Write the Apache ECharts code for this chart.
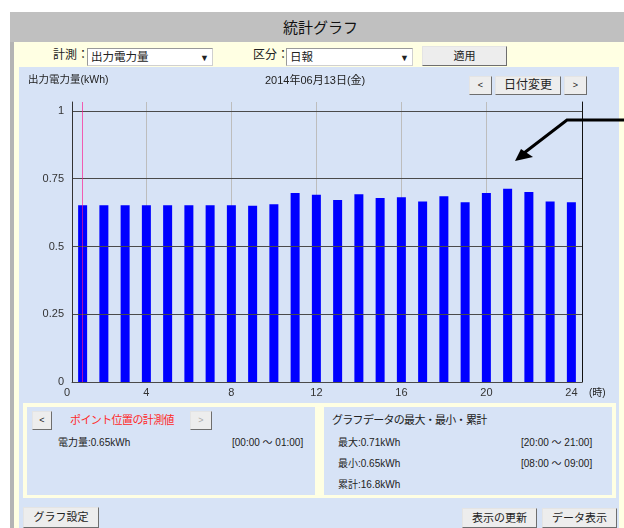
<!DOCTYPE html>
<html>
<head>
<meta charset="utf-8">
<script src="https://cdn.jsdelivr.net/npm/echarts@6/dist/echarts.min.js"></script>
<style>
  html, body { margin:0; padding:0; background:#ffffff; }
  body { width:624px; height:528px; overflow:hidden; position:relative;
         font-family:"Liberation Sans","Noto Sans CJK JP",sans-serif; color:#222; }
  .abs { position:absolute; }
  .txt { position:absolute; white-space:nowrap; line-height:14px; font-size:11px; }
  .sm { font-size:10px; }
  .btn { position:absolute; box-sizing:border-box; background:#ededed;
         border:1px solid; border-color:#e4e4e4 #6e6e6e #6e6e6e #e4e4e4;
         font-size:11px; text-align:center; color:#222; white-space:nowrap; }
  .sel { position:absolute; box-sizing:border-box; background:#fff;
         border:1px solid; border-color:#9a9a9a #d0d0d0 #d0d0d0 #9a9a9a; font-size:12px; }
  #chart { position:absolute; left:0; top:0; width:624px; height:528px; z-index:5; }
</style>
</head>
<body>
  <!-- page chrome -->
  <div class="abs" style="left:10px;top:12px;width:614px;height:30px;background:#c0c0c0;"></div>
  <div class="txt" style="left:283px;top:19px;font-size:15px;line-height:18px;color:#111;">統計グラフ</div>
  <div class="abs" style="left:10px;top:42px;width:4px;height:486px;background:#b4b4b4;"></div>
  <div class="abs" style="left:14px;top:42px;width:610px;height:486px;background:#ffffe3;"></div>
  <div class="abs" style="left:19px;top:67px;width:600px;height:461px;background:#d7e3f6;"></div>

  <!-- controls row -->
  <div class="txt" style="left:53px;top:48px;font-size:12px;">計測：</div>
  <div class="sel" style="left:87px;top:48px;width:126px;height:18px;">
    <span class="txt" style="left:3px;top:1px;font-size:11.5px;">出力電力量</span>
    <span class="txt" style="left:112px;top:2px;font-size:9px;">▼</span>
  </div>
  <div class="txt" style="left:253px;top:48px;font-size:12px;">区分：</div>
  <div class="sel" style="left:286px;top:48px;width:127px;height:18px;">
    <span class="txt" style="left:3px;top:1px;font-size:11.5px;">日報</span>
    <span class="txt" style="left:113px;top:2px;font-size:9px;">▼</span>
  </div>
  <div class="btn" style="left:422px;top:46px;width:85px;height:20px;line-height:18px;">適用</div>

  <!-- chart header buttons -->
  <div class="btn" style="left:469px;top:76px;width:23px;height:19px;line-height:17px;font-size:9px;">&lt;</div>
  <div class="btn" style="left:495px;top:76px;width:66px;height:19px;line-height:17px;font-size:12px;">日付変更</div>
  <div class="btn" style="left:564px;top:76px;width:23px;height:19px;line-height:17px;font-size:9px;">&gt;</div>

  <!-- bottom info panels -->
  <div class="abs" style="left:23px;top:403px;width:593px;height:95px;background:#ffffe3;"></div>
  <div class="abs" style="left:27px;top:407px;width:288px;height:88px;background:#d7e3f6;"></div>
  <div class="abs" style="left:324px;top:407px;width:288px;height:88px;background:#d7e3f6;"></div>

  <div class="btn" style="left:32px;top:411px;width:20px;height:19px;line-height:17px;font-size:9px;">&lt;</div>
  <div class="txt" style="left:70px;top:413px;color:#ff2a2a;letter-spacing:-0.6px;">ポイント位置の計測値</div>
  <div class="btn" style="left:190px;top:411px;width:22px;height:19px;line-height:17px;font-size:9px;color:#aaa;">&gt;</div>
  <div class="txt sm" style="left:58px;top:436px;">電力量:0.65kWh</div>
  <div class="txt sm" style="left:232px;top:436px;">[00:00 ～ 01:00]</div>

  <div class="txt" style="left:332px;top:413px;letter-spacing:-0.7px;">グラフデータの最大・最小・累計</div>
  <div class="txt sm" style="left:338px;top:436px;">最大:0.71kWh</div>
  <div class="txt sm" style="left:521px;top:436px;">[20:00 ～ 21:00]</div>
  <div class="txt sm" style="left:338px;top:457px;">最小:0.65kWh</div>
  <div class="txt sm" style="left:521px;top:457px;">[08:00 ～ 09:00]</div>
  <div class="txt sm" style="left:338px;top:478px;">累計:16.8kWh</div>

  <div class="btn" style="left:23px;top:507px;width:76px;height:21px;line-height:19px;">グラフ設定</div>
  <div class="btn" style="left:462px;top:508px;width:75px;height:20px;line-height:18px;">表示の更新</div>
  <div class="btn" style="left:542px;top:508px;width:75px;height:20px;line-height:18px;">データ表示</div>

  <div id="chart"></div>

<script>
// ---- data ----
const hours = [1,2,3,4,5,6,7,8,9,10,11,12,13,14,15,16,17,18,19,20,21,22,23,24];
const energy = [0.652,0.652,0.652,0.652,0.652,0.652,0.652,0.652,0.650,0.656,0.697,0.691,
                0.671,0.693,0.679,0.682,0.666,0.685,0.663,0.697,0.713,0.701,0.666,0.663];
const xLabelValues = [0.5,4,8,12,16,20,24];
const xLabelTexts  = ['0','4','8','12','16','20','24'];
const xGridValues  = [4,8,12,16,20];
const selectedHour = 1;
const yTitle = '出力電力量(kWh)';
const dateText = '2014年06月13日(金)';
const xName = '(時)';

const FONT = "'Liberation Sans','Noto Sans CJK JP',sans-serif";
const chart = echarts.init(document.getElementById('chart'), null, {renderer:'canvas'});

const option = {
  backgroundColor: 'transparent',
  animation: false,
  textStyle: { fontFamily: FONT },
  title: [
    { text: yTitle, left: 28, top: 75, padding: 0,
      textStyle: { fontSize: 10.5, fontWeight: 'normal', color: '#222', fontFamily: FONT } },
    { text: dateText, left: 265, top: 75, padding: 0,
      textStyle: { fontSize: 11, fontWeight: 'normal', color: '#222', fontFamily: FONT } }
  ],
  grid: { left: 72, right: 42, top: 102, bottom: 146, containLabel: false },
  xAxis: {
    type: 'value', min: 0.5, max: 24.5,
    name: xName, nameLocation: 'end', nameGap: 7,
    nameTextStyle: { fontSize: 10, color: '#222', verticalAlign: 'top', padding: [6, 0, 0, 0], fontFamily: FONT },
    axisLine: { show: true, lineStyle: { color: '#555', width: 1 } },
    axisTick: { show: false, customValues: xGridValues },
    axisLabel: {
      customValues: xLabelValues, margin: 5, fontSize: 11, color: '#333', fontFamily: FONT,
      formatter: function (v) {
        const i = xLabelValues.indexOf(v);
        const t = i >= 0 ? xLabelTexts[i] : '';
        return i === 0 ? '{z|' + t + '}' : t;
      },
      rich: { z: { padding: [0, 10, 0, 0], fontSize: 11, color: '#333', fontFamily: FONT } }
    },
    splitLine: { show: true, lineStyle: { color: '#bdbdbd', width: 1 } }
  },
  yAxis: [
    {
      type: 'value', min: 0, max: 1.033, interval: 0.25, z: 3,
      axisLine: { show: true, lineStyle: { color: '#333', width: 1 } },
      axisTick: { show: false },
      axisLabel: { margin: 8, fontSize: 11, color: '#333', showMaxLabel: false, fontFamily: FONT },
      splitLine: { show: true, showMaxLine: false, lineStyle: { color: '#4a4a4a', width: 1 } }
    },
    {
      type: 'value', min: 0, max: 1.033, position: 'right',
      axisLine: { show: true, lineStyle: { color: '#111', width: 1 } },
      axisTick: { show: false }, axisLabel: { show: false }, splitLine: { show: false }
    }
  ],
  series: [{
    type: 'bar',
    data: hours.map((h, i) => [h, energy[i]]),
    barWidth: 9,
    itemStyle: { color: '#0000ff' },
    markLine: {
      silent: true, symbol: 'none', animation: false,
      label: { show: false },
      lineStyle: { color: 'rgba(255,20,140,0.65)', width: 1, type: 'solid' },
      data: [{ xAxis: selectedHour }]
    }
  }],
  graphic: [
    { type: 'polyline', z: 10,
      shape: { points: [[626, 120], [567, 120], [524, 153]] },
      style: { stroke: '#000', lineWidth: 3, fill: null } },
    { type: 'polygon', z: 10,
      shape: { points: [[515, 161], [533, 157], [521, 149]] },
      style: { fill: '#000' } }
  ]
};
chart.setOption(option);
</script>
</body>
</html>
